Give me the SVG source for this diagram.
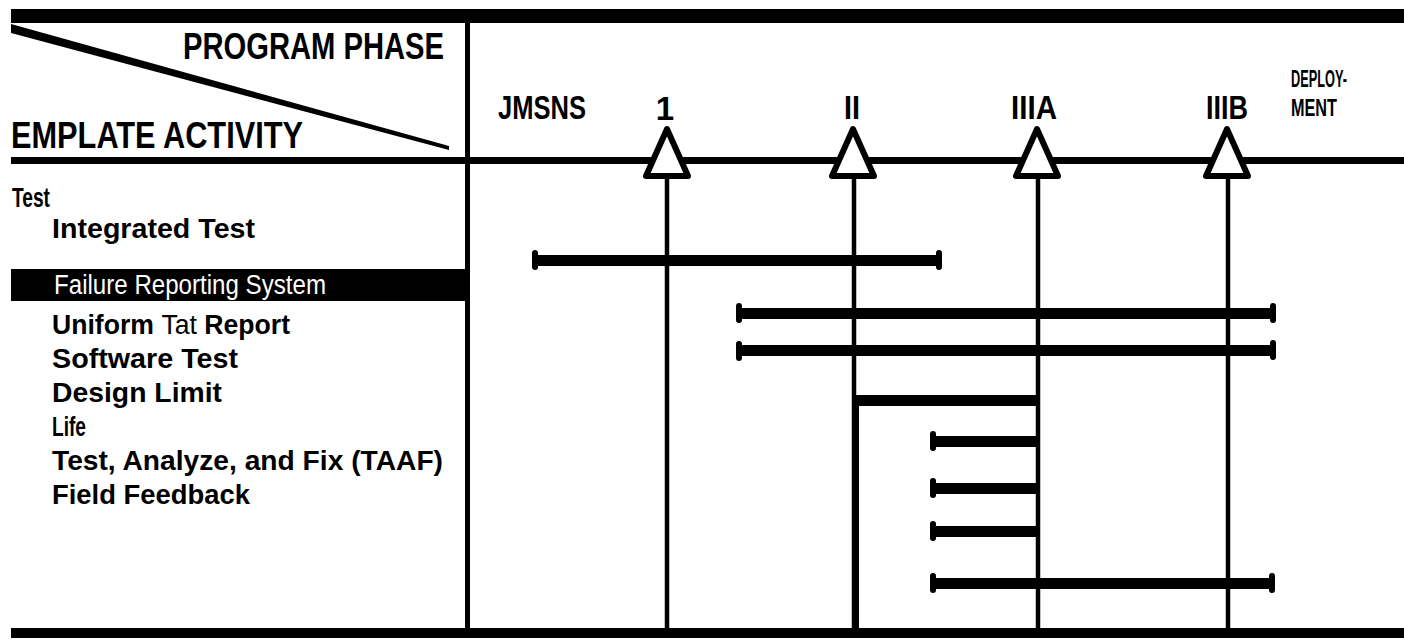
<svg xmlns="http://www.w3.org/2000/svg" width="1404" height="644" viewBox="0 0 1404 644">
<style>
.h{font-family:"Liberation Sans",Arial,sans-serif;font-weight:bold;fill:#000}
.r{font-family:"Liberation Sans",Arial,sans-serif;font-weight:normal}
.lbl{font-size:27px}
.bar{fill:#000}
.ms{fill:#fff;stroke:#000;stroke-width:6;stroke-linejoin:round}
.vl{stroke:#000;stroke-width:4.5}
</style>
<defs>
<g id="cap"><rect x="-3" y="-10" width="6" height="20" rx="3" fill="#000"/></g>
</defs>
<rect width="1404" height="644" fill="#fff"/>
<g id="frame">
<rect x="11" y="9" width="1393" height="14" fill="#000"/>
<rect x="11" y="157" width="1393" height="7" fill="#000"/>
<rect x="11" y="628" width="1393" height="10" fill="#000"/>
<rect x="465" y="22" width="5" height="610" fill="#000"/>
<polygon points="11,24 11,33 449,150 449,146" fill="#000"/>
</g>
<g id="header">
<text class="h" x="183" y="59" font-size="36" textLength="261" lengthAdjust="spacingAndGlyphs">PROGRAM PHASE</text>
<text class="h" x="11" y="148" font-size="36" textLength="292" lengthAdjust="spacingAndGlyphs">EMPLATE ACTIVITY</text>
</g>
<g id="phases">
<text class="h" x="498" y="119" font-size="34" textLength="88" lengthAdjust="spacingAndGlyphs">JMSNS</text>
<text class="h" x="665" y="120" font-size="33" text-anchor="middle">1</text>
<text class="h" x="844" y="119" font-size="34" textLength="16" lengthAdjust="spacingAndGlyphs">II</text>
<text class="h" x="1011" y="119" font-size="34" textLength="46" lengthAdjust="spacingAndGlyphs">IIIA</text>
<text class="h" x="1206" y="119" font-size="34" textLength="42" lengthAdjust="spacingAndGlyphs">IIIB</text>
<text class="h" x="1291" y="87" font-size="23" textLength="56" lengthAdjust="spacingAndGlyphs">DEPLOY-</text>
<text class="h" x="1291" y="116" font-size="23" textLength="46" lengthAdjust="spacingAndGlyphs">MENT</text>
</g>
<g id="connectors">
<line class="vl" x1="667" y1="175" x2="667" y2="630"/>
<line class="vl" x1="854" y1="175" x2="854" y2="630"/>
<rect x="853" y="400" width="6" height="230" fill="#000"/>
<line class="vl" x1="1038" y1="175" x2="1038" y2="630"/>
<line class="vl" x1="1228" y1="175" x2="1228" y2="630"/>
</g>
<g id="milestones">
<polygon class="ms" points="667,129 646,176 688,176"/>
<polygon class="ms" points="853,129 832,176 874,176"/>
<polygon class="ms" points="1037,129 1016,176 1058,176"/>
<polygon class="ms" points="1227,129 1206,176 1248,176"/>
</g>
<g id="row-test"><text class="h lbl" x="12" y="207" textLength="38" lengthAdjust="spacingAndGlyphs">Test</text></g>
<g id="row-integrated">
<text class="h lbl" x="52" y="238" textLength="203" lengthAdjust="spacingAndGlyphs">Integrated Test</text>
<rect class="bar" x="534" y="255" width="406" height="11"/>
<use href="#cap" x="535" y="260"/><use href="#cap" x="939" y="260"/>
</g>
<g id="row-failure">
<rect x="11" y="269" width="456" height="32" fill="#000"/>
<text class="r lbl" x="54" y="294" fill="#fff" textLength="272" lengthAdjust="spacingAndGlyphs">Failure Reporting System</text>
<rect class="bar" x="738" y="308" width="536" height="11"/>
<use href="#cap" x="739" y="313"/><use href="#cap" x="1273" y="313"/>
</g>
<g id="row-uniform">
<text class="h lbl" x="52" y="334" textLength="238" lengthAdjust="spacingAndGlyphs">Uniform <tspan font-weight="normal">Tat</tspan> Report</text>
<rect class="bar" x="738" y="345" width="536" height="11"/>
<use href="#cap" x="739" y="351"/><use href="#cap" x="1273" y="350"/>
</g>
<g id="row-software">
<text class="h lbl" x="52" y="368" textLength="186" lengthAdjust="spacingAndGlyphs">Software Test</text>
<rect class="bar" x="856" y="395" width="182" height="11"/>
</g>
<g id="row-design">
<text class="h lbl" x="52" y="402" textLength="170" lengthAdjust="spacingAndGlyphs">Design Limit</text>
<rect class="bar" x="932" y="436" width="106" height="11"/>
<use href="#cap" x="933" y="441"/>
</g>
<g id="row-life">
<text class="h lbl" x="52" y="436" textLength="34" lengthAdjust="spacingAndGlyphs">Life</text>
<rect class="bar" x="932" y="483" width="106" height="11"/>
<use href="#cap" x="933" y="488"/>
</g>
<g id="row-taaf">
<text class="h lbl" x="52" y="470" textLength="391" lengthAdjust="spacingAndGlyphs">Test, Analyze, and Fix (TAAF)</text>
<rect class="bar" x="932" y="526" width="106" height="11"/>
<use href="#cap" x="933" y="531"/>
</g>
<g id="row-field">
<text class="h lbl" x="52" y="504" textLength="198" lengthAdjust="spacingAndGlyphs">Field Feedback</text>
<rect class="bar" x="932" y="578" width="342" height="11"/>
<use href="#cap" x="933" y="583"/><use href="#cap" x="1272" y="583"/>
</g>
</svg>
